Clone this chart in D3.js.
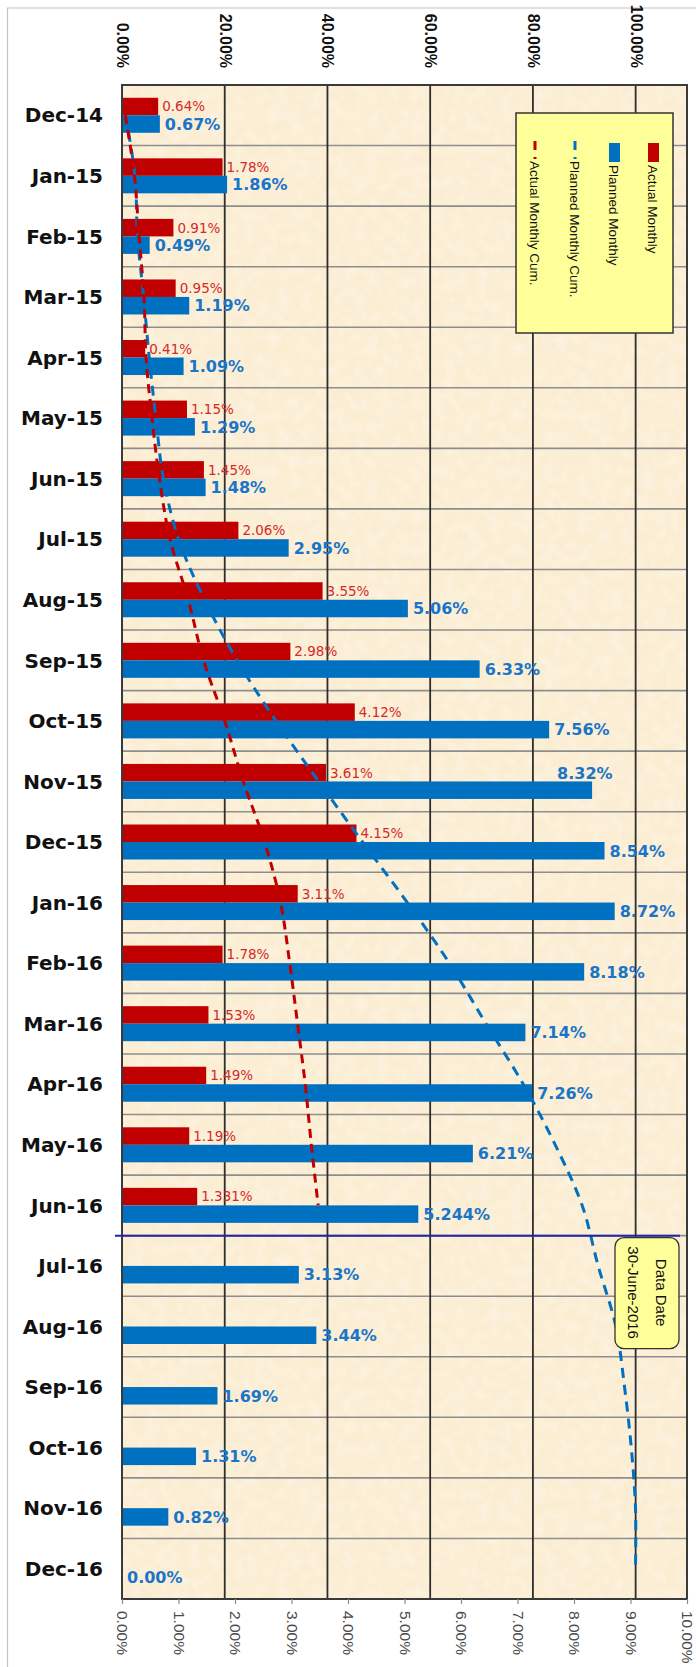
<!DOCTYPE html>
<html>
<head>
<meta charset="utf-8">
<script src="https://cdn.jsdelivr.net/npm/d3@7"></script>
<style>
body { margin: 0; background: #fff; }
svg { display: block; }
.cat { font-family: "DejaVu Sans", Verdana, sans-serif; font-weight: bold; font-size: 20px; fill: #111; }
.lbl-a { font-family: "DejaVu Sans", Verdana, sans-serif; font-size: 13.5px; fill: #d42a2a; }
.lbl-p { font-family: "DejaVu Sans", Verdana, sans-serif; font-weight: bold; font-size: 16px; fill: #1a75c9; }
.tick-top { font-family: "Liberation Sans", Arial, sans-serif; font-weight: bold; font-size: 16px; fill: #111; }
.tick-bot { font-family: "Liberation Sans", Arial, sans-serif; font-size: 15.5px; fill: #4a4a4a; }
.legend text, .datebox text { font-family: "Liberation Sans", Arial, sans-serif; fill: #111; }
</style>
</head>
<body>
<svg id="chart" width="696" height="1667"></svg>
<script>
var months = ["Dec-14", "Jan-15", "Feb-15", "Mar-15", "Apr-15", "May-15", "Jun-15",
  "Jul-15", "Aug-15", "Sep-15", "Oct-15", "Nov-15", "Dec-15", "Jan-16", "Feb-16",
  "Mar-16", "Apr-16", "May-16", "Jun-16", "Jul-16", "Aug-16", "Sep-16", "Oct-16",
  "Nov-16", "Dec-16"];

// monthly progress, % (bottom axis)
var actualMonthly = [0.64, 1.78, 0.91, 0.95, 0.41, 1.15, 1.45, 2.06, 3.55, 2.98, 4.12,
  3.61, 4.15, 3.11, 1.78, 1.53, 1.49, 1.19, 1.331];
var plannedMonthly = [0.67, 1.86, 0.49, 1.19, 1.09, 1.29, 1.48, 2.95, 5.06, 6.33, 7.56,
  8.32, 8.54, 8.72, 8.18, 7.14, 7.26, 6.21, 5.244, 3.13, 3.44, 1.69, 1.31, 0.82, 0.00];

// cumulative progress, % (top axis)
var actualCum = [0.64, 2.42, 3.33, 4.28, 4.69, 5.84, 7.29, 9.35, 12.90, 15.88, 20.00,
  23.61, 27.76, 30.87, 32.65, 34.18, 35.67, 36.86, 38.19];
var plannedCum = [0.67, 2.53, 3.02, 4.21, 5.30, 6.59, 8.07, 11.02, 16.08, 22.41, 29.97,
  38.29, 46.83, 55.55, 63.73, 70.87, 78.13, 84.34, 89.58, 92.71, 96.15, 97.84, 99.15,
  99.97, 99.97];

var monthlyTicks = [0, 1, 2, 3, 4, 5, 6, 7, 8, 9, 10];
var cumTicks = [0, 20, 40, 60, 80, 100];

var legendNames = ["Actual Monthly", "Planned Monthly", "Planned Monthly Cum.", "Actual Monthly Cum."];
var dataDateText = ["Data Date", "30-June-2016"];
var dataDateMonth = "Jun-16";

var red = "#c00000", blue = "#0070c0";
var plotL = 122, plotR = 687, plotT = 85, plotB = 1599;

var svg = d3.select("#chart");

var y = d3.scaleBand().domain(months).range([plotT, plotB]);
var sub = d3.scaleBand().domain(["a", "p"]).range([0, y.bandwidth()]).paddingOuter(0.73);
var x = d3.scaleLinear().domain([0, 10]).range([plotL, plotR]);
var x2 = d3.scaleLinear().domain([0, 110]).range([plotL, plotR]);

function pct(v, dec) {
  var s = String(v).split(".")[1] || "";
  return v.toFixed(Math.max(dec, s.length)) + "%";
}

// parchment texture
var defs = svg.append("defs");
var flt = defs.append("filter").attr("id", "paper").attr("x", 0).attr("y", 0)
  .attr("width", 1).attr("height", 1);
flt.append("feTurbulence").attr("type", "fractalNoise").attr("baseFrequency", 0.09)
  .attr("numOctaves", 2).attr("seed", 3);
flt.append("feColorMatrix").attr("type", "matrix")
  .attr("values", "0 0 0 0 1  0 0 0 0 1  0 0 0 0 1  0 0 0 -1.6 1.05");

// chart area border (light grey)
svg.append("line").attr("x1", 7).attr("x2", 696).attr("y1", 8).attr("y2", 8)
  .attr("stroke", "#c4c4c4").attr("stroke-width", 1.2);
svg.append("line").attr("x1", 7.5).attr("x2", 7.5).attr("y1", 8).attr("y2", 1667)
  .attr("stroke", "#c4c4c4").attr("stroke-width", 1.2);

// plot background
svg.append("rect").attr("x", plotL).attr("y", plotT)
  .attr("width", plotR - plotL).attr("height", plotB - plotT)
  .attr("fill", "#fbedd2");
svg.append("rect").attr("x", plotL).attr("y", plotT)
  .attr("width", plotR - plotL).attr("height", plotB - plotT)
  .attr("filter", "url(#paper)").attr("opacity", 0.35);

// horizontal grid (row boundaries)
svg.append("g").selectAll("line")
  .data(months.slice(1))
  .enter().append("line")
  .attr("x1", plotL).attr("x2", plotR)
  .attr("y1", function(d) { return y(d); })
  .attr("y2", function(d) { return y(d); })
  .attr("stroke", "#8e8e8e").attr("stroke-width", 1.6);

// vertical grid from cumulative axis
svg.append("g").selectAll("line")
  .data(cumTicks.slice(1))
  .enter().append("line")
  .attr("x1", function(d) { return x2(d); })
  .attr("x2", function(d) { return x2(d); })
  .attr("y1", plotT).attr("y2", plotB)
  .attr("stroke", "#2e2e2e").attr("stroke-width", 1.8);

// bars
svg.append("g").selectAll("rect")
  .data(actualMonthly)
  .enter().append("rect")
  .attr("x", x(0))
  .attr("y", function(d, i) { return y(months[i]) + sub("a"); })
  .attr("width", function(d) { return x(d) - x(0); })
  .attr("height", sub.bandwidth())
  .attr("fill", red);

svg.append("g").selectAll("rect")
  .data(plannedMonthly)
  .enter().append("rect")
  .attr("x", x(0))
  .attr("y", function(d, i) { return y(months[i]) + sub("p"); })
  .attr("width", function(d) { return x(d) - x(0); })
  .attr("height", sub.bandwidth())
  .attr("fill", blue);

// cumulative lines
var cumLine = d3.line()
  .x(function(d) { return x2(d); })
  .y(function(d, i) { return y(months[i]) + y.bandwidth() / 2; })
  .curve(d3.curveCatmullRom.alpha(0.5));

svg.append("path").attr("d", cumLine(plannedCum))
  .attr("fill", "none").attr("stroke", blue).attr("stroke-width", 3)
  .attr("stroke-dasharray", "10,7");
svg.append("path").attr("d", cumLine(actualCum))
  .attr("fill", "none").attr("stroke", red).attr("stroke-width", 3)
  .attr("stroke-dasharray", "9,6");

// data labels
var nudge = { "Nov-15": [-40, -17] };

svg.append("g").selectAll("text")
  .data(actualMonthly)
  .enter().append("text")
  .attr("class", "lbl-a")
  .attr("x", function(d) { return x(d) + 4; })
  .attr("y", function(d, i) { return y(months[i]) + sub("a") + sub.bandwidth() / 2; })
  .attr("dy", "0.36em")
  .text(function(d) { return pct(d, 2); });

svg.append("g").selectAll("text")
  .data(plannedMonthly)
  .enter().append("text")
  .attr("class", "lbl-p")
  .attr("x", function(d, i) { var n = nudge[months[i]]; return x(d) + 5 + (n ? n[0] : 0); })
  .attr("y", function(d, i) {
    var n = nudge[months[i]];
    return y(months[i]) + sub("p") + sub.bandwidth() / 2 + (n ? n[1] : 0);
  })
  .attr("dy", "0.36em")
  .text(function(d) { return pct(d, 2); });

// plot border
svg.append("rect").attr("x", plotL).attr("y", plotT)
  .attr("width", plotR - plotL).attr("height", plotB - plotT)
  .attr("fill", "none").attr("stroke", "#3a3a3a").attr("stroke-width", 2);

// category labels
svg.append("g").selectAll("text")
  .data(months)
  .enter().append("text")
  .attr("class", "cat")
  .attr("text-anchor", "end")
  .attr("x", 103)
  .attr("y", function(d) { return y(d) + y.bandwidth() / 2; })
  .attr("dy", "0.36em")
  .text(function(d) { return d; });

// bottom axis (monthly)
var axB = svg.append("g")
  .attr("transform", "translate(0," + plotB + ")")
  .call(d3.axisBottom(x).tickValues(monthlyTicks).tickSize(5)
    .tickFormat(function(d) { return d.toFixed(2) + "%"; }));
axB.select(".domain").remove();
axB.selectAll(".tick line").attr("stroke", "#8a8a8a").attr("stroke-width", 1.2);
axB.selectAll(".tick text")
  .attr("class", "tick-bot")
  .attr("text-anchor", "start")
  .attr("transform", "translate(0,12) rotate(90)")
  .attr("x", 0).attr("y", 0).attr("dy", "0.35em");

// top axis (cumulative)
var axT = svg.append("g")
  .attr("transform", "translate(0," + plotT + ")")
  .call(d3.axisTop(x2).tickValues(cumTicks).tickSize(0)
    .tickFormat(function(d) { return d.toFixed(2) + "%"; }));
axT.select(".domain").remove();
axT.selectAll(".tick text")
  .attr("class", "tick-top")
  .attr("text-anchor", "end")
  .attr("transform", "translate(0,-17) rotate(90)")
  .attr("x", 0).attr("y", 0).attr("dy", "0.35em");

// legend (rotated)
var lg = svg.append("g").attr("class", "legend");
lg.append("rect").attr("x", 516).attr("y", 113).attr("width", 157).attr("height", 220)
  .attr("fill", "#ffff99").attr("stroke", "#333").attr("stroke-width", 1.5);
var lgX = [653, 614, 575, 535];
var lgColor = [red, blue, blue, red];
legendNames.forEach(function(name, i) {
  if (i < 2) {
    lg.append("rect").attr("x", lgX[i] - 5).attr("y", 143).attr("width", 11).attr("height", 19)
      .attr("fill", lgColor[i]);
  } else {
    lg.append("line").attr("x1", lgX[i]).attr("x2", lgX[i]).attr("y1", 141).attr("y2", 161)
      .attr("stroke", lgColor[i]).attr("stroke-width", 3).attr("stroke-dasharray", "9,7,2,20");
  }
  lg.append("text")
    .attr("transform", "translate(" + lgX[i] + "," + (i < 2 ? 165 : 161) + ") rotate(90)")
    .attr("dy", "0.35em")
    .style("font-size", "13.5px")
    .text(name);
});

// data date line and note
var dateY = y(dataDateMonth) + y.bandwidth();
svg.append("line").attr("x1", 115).attr("x2", 680).attr("y1", dateY).attr("y2", dateY)
  .attr("stroke", "#2424a8").attr("stroke-width", 2);

var db = svg.append("g").attr("class", "datebox");
db.append("rect").attr("x", 615).attr("y", dateY + 2).attr("width", 64).attr("height", 111)
  .attr("rx", 9).attr("fill", "#ffff99").attr("stroke", "#333").attr("stroke-width", 1.3);
dataDateText.forEach(function(t, i) {
  db.append("text")
    .attr("text-anchor", "middle")
    .attr("transform", "translate(" + (661 - i * 28) + "," + (dateY + 57) + ") rotate(90)")
    .attr("dy", "0.35em")
    .style("font-size", "15px")
    .text(t);
});
</script>
</body>
</html>
